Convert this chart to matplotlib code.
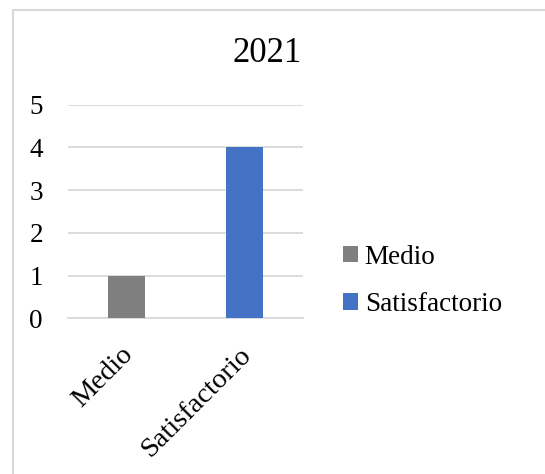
import matplotlib
matplotlib.use("Agg")
import matplotlib.pyplot as plt
from matplotlib.lines import Line2D
from matplotlib.patches import Patch
from matplotlib.transforms import ScaledTranslation

categories = ["Medio", "Satisfactorio"]
values = [1, 4]
colors = ["#7F7F7F", "#4472C4"]
yticks = [0, 1, 2, 3, 4, 5]
title = "2021"

plt.rcParams['font.family'] = ['Liberation Serif', 'DejaVu Serif']

W, H = 545, 474
fig = plt.figure(figsize=(W / 100, H / 100), dpi=100)

# chart-area border (only top and left visible in the crop)
fig.add_artist(Line2D([13 / W, 13 / W], [0, 1 - 10 / H], color="#D9D9D9", lw=1.5))
fig.add_artist(Line2D([13 / W, 1], [1 - 10 / H, 1 - 10 / H], color="#D9D9D9", lw=1.5))

left, right = 68 / W, 303 / W
bottom, top = 1 - 318.3 / H, 1 - 104.7 / H
ax = fig.add_axes([left, bottom, right - left, top - bottom])

x = list(range(len(categories)))
ax.bar(x, values, width=0.315, color=colors, zorder=3)
ax.set_xlim(-0.5, len(categories) - 0.5)
ax.set_ylim(0, 5)
ax.set_yticks(yticks)
ax.set_yticklabels([str(t) for t in yticks], fontsize=19.5)
ax.set_xticks(x)
ax.set_xticklabels([])
off = ax.get_xaxis_transform() + ScaledTranslation(-6 / 100, -24 / 100, fig.dpi_scale_trans)
for xi, lab in zip(x, categories):
    ax.text(xi, 0, lab, transform=off, fontsize=20.5, rotation=45,
            ha="right", va="top", rotation_mode="anchor")
ax.tick_params(axis="both", length=0)
ax.tick_params(axis="y", pad=18)
ax.grid(axis="y", color="#D9D9D9", lw=1.3, zorder=0)
for s in ["top", "right", "left"]:
    ax.spines[s].set_visible(False)
ax.spines["bottom"].set_color("#D9D9D9")
ax.spines["bottom"].set_linewidth(1.3)

fig.text(267 / W, 1 - 54 / H, title, fontsize=25, ha="center", va="center")

handles = [Patch(facecolor=c, edgecolor="none") for c in colors]
fig.legend(handles, categories, loc="center left",
           bbox_to_anchor=(343 / W, 1 - 281 / H), frameon=False,
           borderpad=0, borderaxespad=0,
           fontsize=19.5, handlelength=0.55, handleheight=0.55,
           handletextpad=0.25, labelspacing=0.82)

fig.savefig("out.png", dpi=100)
